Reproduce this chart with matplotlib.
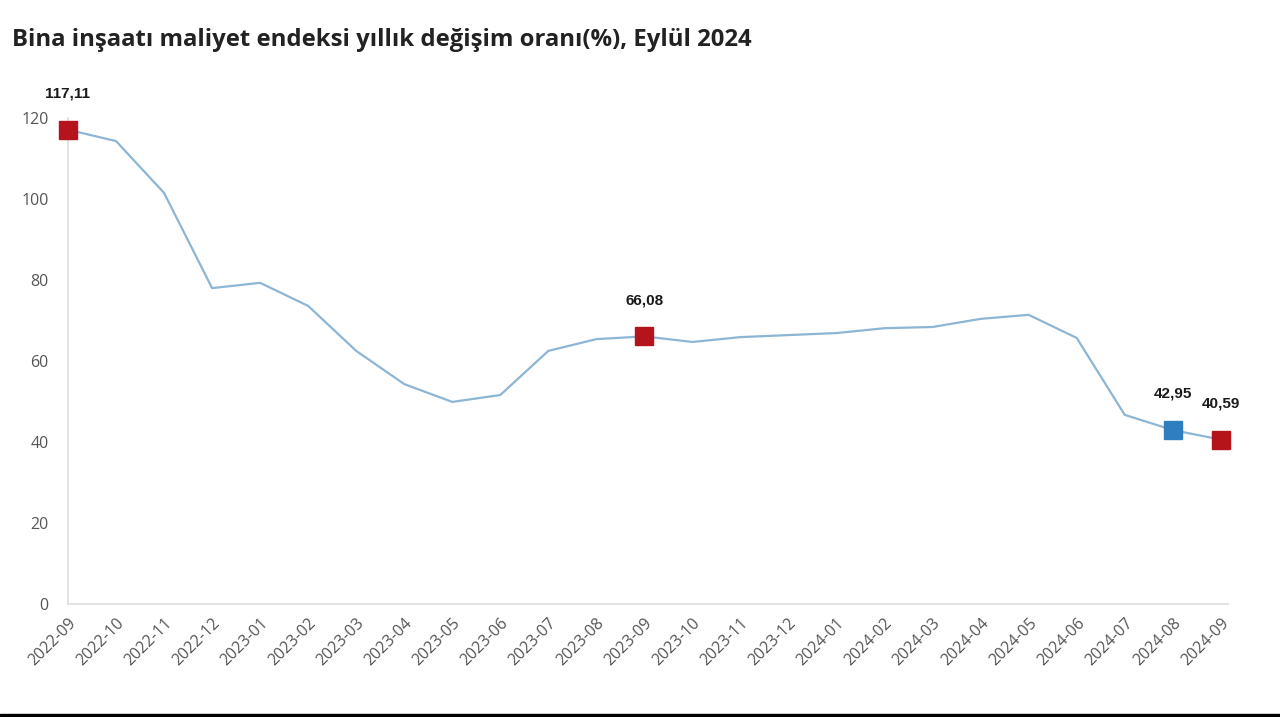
import matplotlib.pyplot as plt

months = ["2022-09", "2022-10", "2022-11", "2022-12", "2023-01", "2023-02", "2023-03",
          "2023-04", "2023-05", "2023-06", "2023-07", "2023-08", "2023-09", "2023-10",
          "2023-11", "2023-12", "2024-01", "2024-02", "2024-03", "2024-04", "2024-05",
          "2024-06", "2024-07", "2024-08", "2024-09"]
values = [117.11, 114.3, 101.5, 78.0, 79.3, 73.6, 62.5, 54.3, 49.9, 51.6, 62.5, 65.4,
          66.08, 64.7, 65.9, 66.4, 66.9, 68.1, 68.4, 70.4, 71.4, 65.7, 46.7, 42.95, 40.59]
red_points = ["2022-09", "2023-09", "2024-09"]
blue_points = ["2024-08"]


def fmt(v):
    return ("%.2f" % v).replace(".", ",")


def draw_chart():
    fig = plt.figure(figsize=(12.8, 7.17), dpi=100)
    ax = fig.add_axes([68 / 1280, 113 / 717, 1160 / 1280, 486 / 717])
    x = list(range(len(months)))
    ax.plot(x, values, color="#8db5d4", lw=1.6, zorder=2)

    for name, col in [(m, "#b5141c") for m in red_points] + [(m, "#2f7ec0") for m in blue_points]:
        i = months.index(name)
        ax.plot(i, values[i], "s", ms=13, color=col, mec=col, zorder=3, clip_on=False)
        ax.annotate(fmt(values[i]), (i, values[i]), xytext=(0, 21), textcoords="offset points",
                    ha="center", va="bottom", fontsize=11, fontweight="bold",
                    family="Liberation Sans", color="#1a1a1a")

    ax.set_xlim(0, 24.15)
    ax.set_ylim(0, 120)
    ax.set_yticks([0, 20, 40, 60, 80, 100, 120])
    ax.set_xticks(x)
    ax.set_xticklabels(months, rotation=45, ha="right", rotation_mode="anchor")
    ax.tick_params(length=0, labelsize=11.5, labelcolor="#555555", pad=8)
    for lab in ax.get_xticklabels() + ax.get_yticklabels():
        lab.set_family("Open Sans")
    ax.tick_params(axis="y", pad=14)
    for s in ["top", "right"]:
        ax.spines[s].set_visible(False)
    for s in ["left", "bottom"]:
        ax.spines[s].set_color("#dddddd")
        ax.spines[s].set_linewidth(1.2)

    fig.text(12 / 1280, 1 - 40 / 717, "Bina inşaatı maliyet endeksi yıllık değişim oranı(%), Eylül 2024",
             fontsize=17.2, fontweight="bold", family="Open Sans", color="#222222", va="center")
    fig.patches.append(plt.Rectangle((0, 0), 1, 3 / 717, transform=fig.transFigure,
                                     color="black", zorder=5))
    fig.savefig("out.png", dpi=100)


if __name__ == '__main__':
    draw_chart()
